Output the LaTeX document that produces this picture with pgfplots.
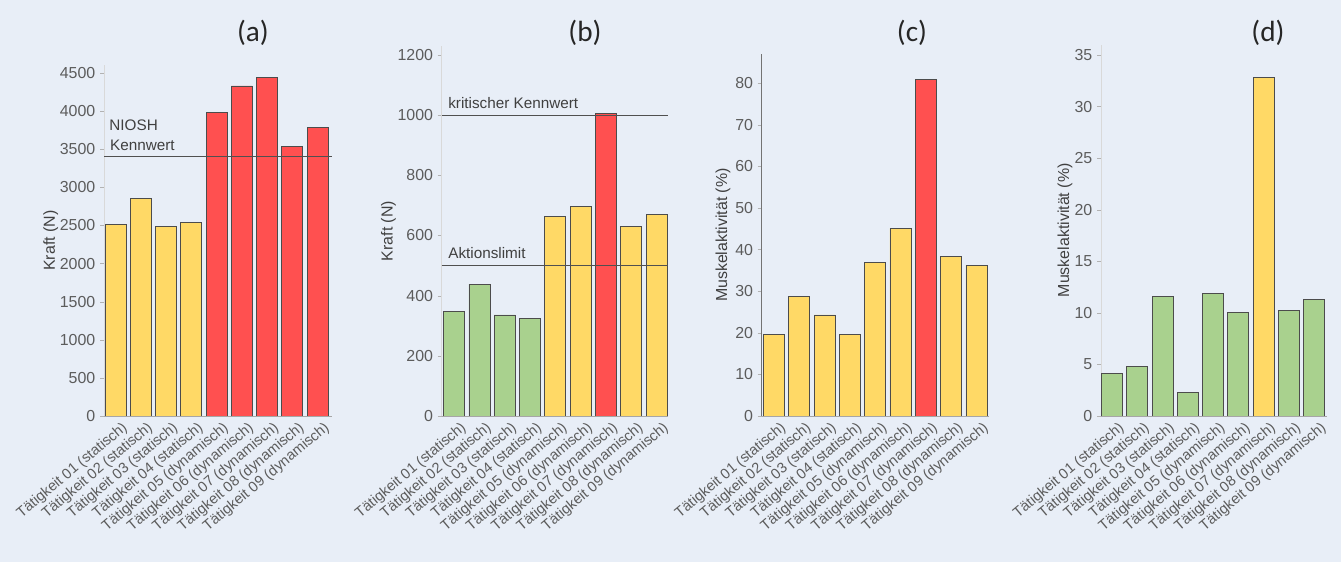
\documentclass[border=0pt]{standalone}
\usepackage{fontspec}
\setmainfont{Liberation Sans}
\newfontfamily\titlefont{Carlito}
\usepackage{pgfplots}
\pgfplotsset{compat=1.18}
\definecolor{bg}{HTML}{E8EEF7}
\definecolor{cyel}{HTML}{FFD966}
\definecolor{cred}{HTML}{FF5050}
\definecolor{cgrn}{HTML}{A9D18E}
\definecolor{tgray}{HTML}{5C5C5C}
\definecolor{lgray}{HTML}{404040}
\definecolor{refline}{HTML}{505050}
\pgfplotsset{
 panel/.style={
   scale only axis,
   axis x line*=bottom, axis y line*=left,
   x axis line style={draw=gray!70,-},
   y axis line style={draw=gray!30,-},
   xtick={0,...,8},
   xticklabels={Tätigkeit 01 (statisch),Tätigkeit 02 (statisch),Tätigkeit 03 (statisch),Tätigkeit 04 (statisch),Tätigkeit 05 (dynamisch),Tätigkeit 06 (dynamisch),Tätigkeit 07 (dynamisch),Tätigkeit 08 (dynamisch),Tätigkeit 09 (dynamisch)},
   xticklabel style={rotate=40, anchor=north east, font=\fontsize{11}{13}\selectfont, text=tgray, inner sep=1pt, xshift=4bp, yshift=-2bp},
   x tick style={draw=none},
   y tick style={draw=gray!60},
   major tick length=3bp,
   tick align=outside,
   yticklabel style={font=\fontsize{12}{14}\selectfont, text=tgray},
   /pgf/number format/assume math mode=true,
   /pgf/number format/1000 sep={},
   ymin=0,
   ylabel style={anchor=center, font=\fontsize{12}{14}\selectfont, text=lgray},
 },
 bars/.style={ybar, bar width=0.83, bar shift=0pt, draw=black!70, line width=0.6bp, fill=#1},
 ref/.style={sharp plot, no marks, draw=refline, line width=0.8bp},
}
\begin{document}
\begin{tikzpicture}
\fill[bg] (0,0) rectangle (1005.75bp,421.5bp);

% (a)
\begin{axis}[panel, at={(78bp,109.5bp)}, anchor=south west, width=171bp, height=263bp,
  xmin=-0.455, xmax=8.574, ymax=4600, ytick={0,500,...,4500},
  ylabel={Kraft (N)}, ylabel style={at={(axis description cs:-0.234,0.5)}}]
\addplot[bars=cyel] coordinates {(0,2515) (1,2855) (2,2485) (3,2535)};
\addplot[bars=cred] coordinates {(4,3980) (5,4330) (6,4440) (7,3535) (8,3785)};
\addplot[ref] coordinates {(-0.455,3400) (8.574,3400)};
\node[anchor=west, font=\fontsize{11.5}{13}\selectfont, text=lgray, inner sep=0pt] at (axis cs:-0.25,3819) {NIOSH};
\node[anchor=west, font=\fontsize{11.5}{13}\selectfont, text=lgray, inner sep=0pt] at (axis cs:-0.22,3556) {Kennwert};
\end{axis}

% (b)
\begin{axis}[panel, at={(331.3bp,109.5bp)}, anchor=south west, width=170bp, height=277.5bp,
  xmin=-0.49, xmax=8.47, ymax=1230, ytick={0,200,...,1200},
  ylabel={Kraft (N)}, ylabel style={at={(axis description cs:-0.235,0.5)}}]
\addplot[bars=cgrn] coordinates {(0,347) (1,438) (2,336) (3,325)};
\addplot[bars=cyel] coordinates {(4,663) (5,698) (7,629) (8,670)};
\addplot[bars=cred] coordinates {(6,1005)};
\addplot[ref] coordinates {(-0.49,1000) (8.47,1000)};
\addplot[ref] coordinates {(-0.49,500) (8.47,500)};
\node[anchor=west, font=\fontsize{11.5}{13}\selectfont, text=lgray, inner sep=0pt] at (axis cs:-0.24,1040) {kritischer Kennwert};
\node[anchor=west, font=\fontsize{11.5}{13}\selectfont, text=lgray, inner sep=0pt] at (axis cs:-0.24,542) {Aktionslimit};
\end{axis}

% (c)
\begin{axis}[panel, at={(571.3bp,109.5bp)}, anchor=south west, width=170.5bp, height=271.4bp,
  xmin=-0.48, xmax=8.5, ymax=87, ytick={0,10,...,80},
  y axis line style={draw=gray!90!black},
  ylabel={Muskelaktivität (\%)}, ylabel style={at={(axis description cs:-0.17,0.5)}}]
\addplot[bars=cyel] coordinates {(0,19.5) (1,28.8) (2,24.3) (3,19.5) (4,36.9) (5,45.1) (7,38.3) (8,36.3)};
\addplot[bars=cred] coordinates {(6,80.9)};
\end{axis}

% (d)
\begin{axis}[panel, at={(825.75bp,109.5bp)}, anchor=south west, width=169.3bp, height=278.5bp,
  xmin=-0.44, xmax=8.5, ymax=36, ytick={0,5,...,35},
  ylabel={Muskelaktivität (\%)}, ylabel style={at={(axis description cs:-0.16,0.5)}}]
\addplot[bars=cgrn] coordinates {(0,4.1) (1,4.8) (2,11.6) (3,2.3) (4,11.9) (5,10.0) (7,10.2) (8,11.3)};
\addplot[bars=cyel] coordinates {(6,32.8)};
\end{axis}

\node[font=\titlefont\fontsize{22}{26}\selectfont, text=black!85] at (189.75bp,396.75bp) {(a)};
\node[font=\titlefont\fontsize{22}{26}\selectfont, text=black!85] at (438.75bp,396.75bp) {(b)};
\node[font=\titlefont\fontsize{22}{26}\selectfont, text=black!85] at (684bp,396.75bp) {(c)};
\node[font=\titlefont\fontsize{22}{26}\selectfont, text=black!85] at (951bp,396.75bp) {(d)};
\end{tikzpicture}
\end{document}
